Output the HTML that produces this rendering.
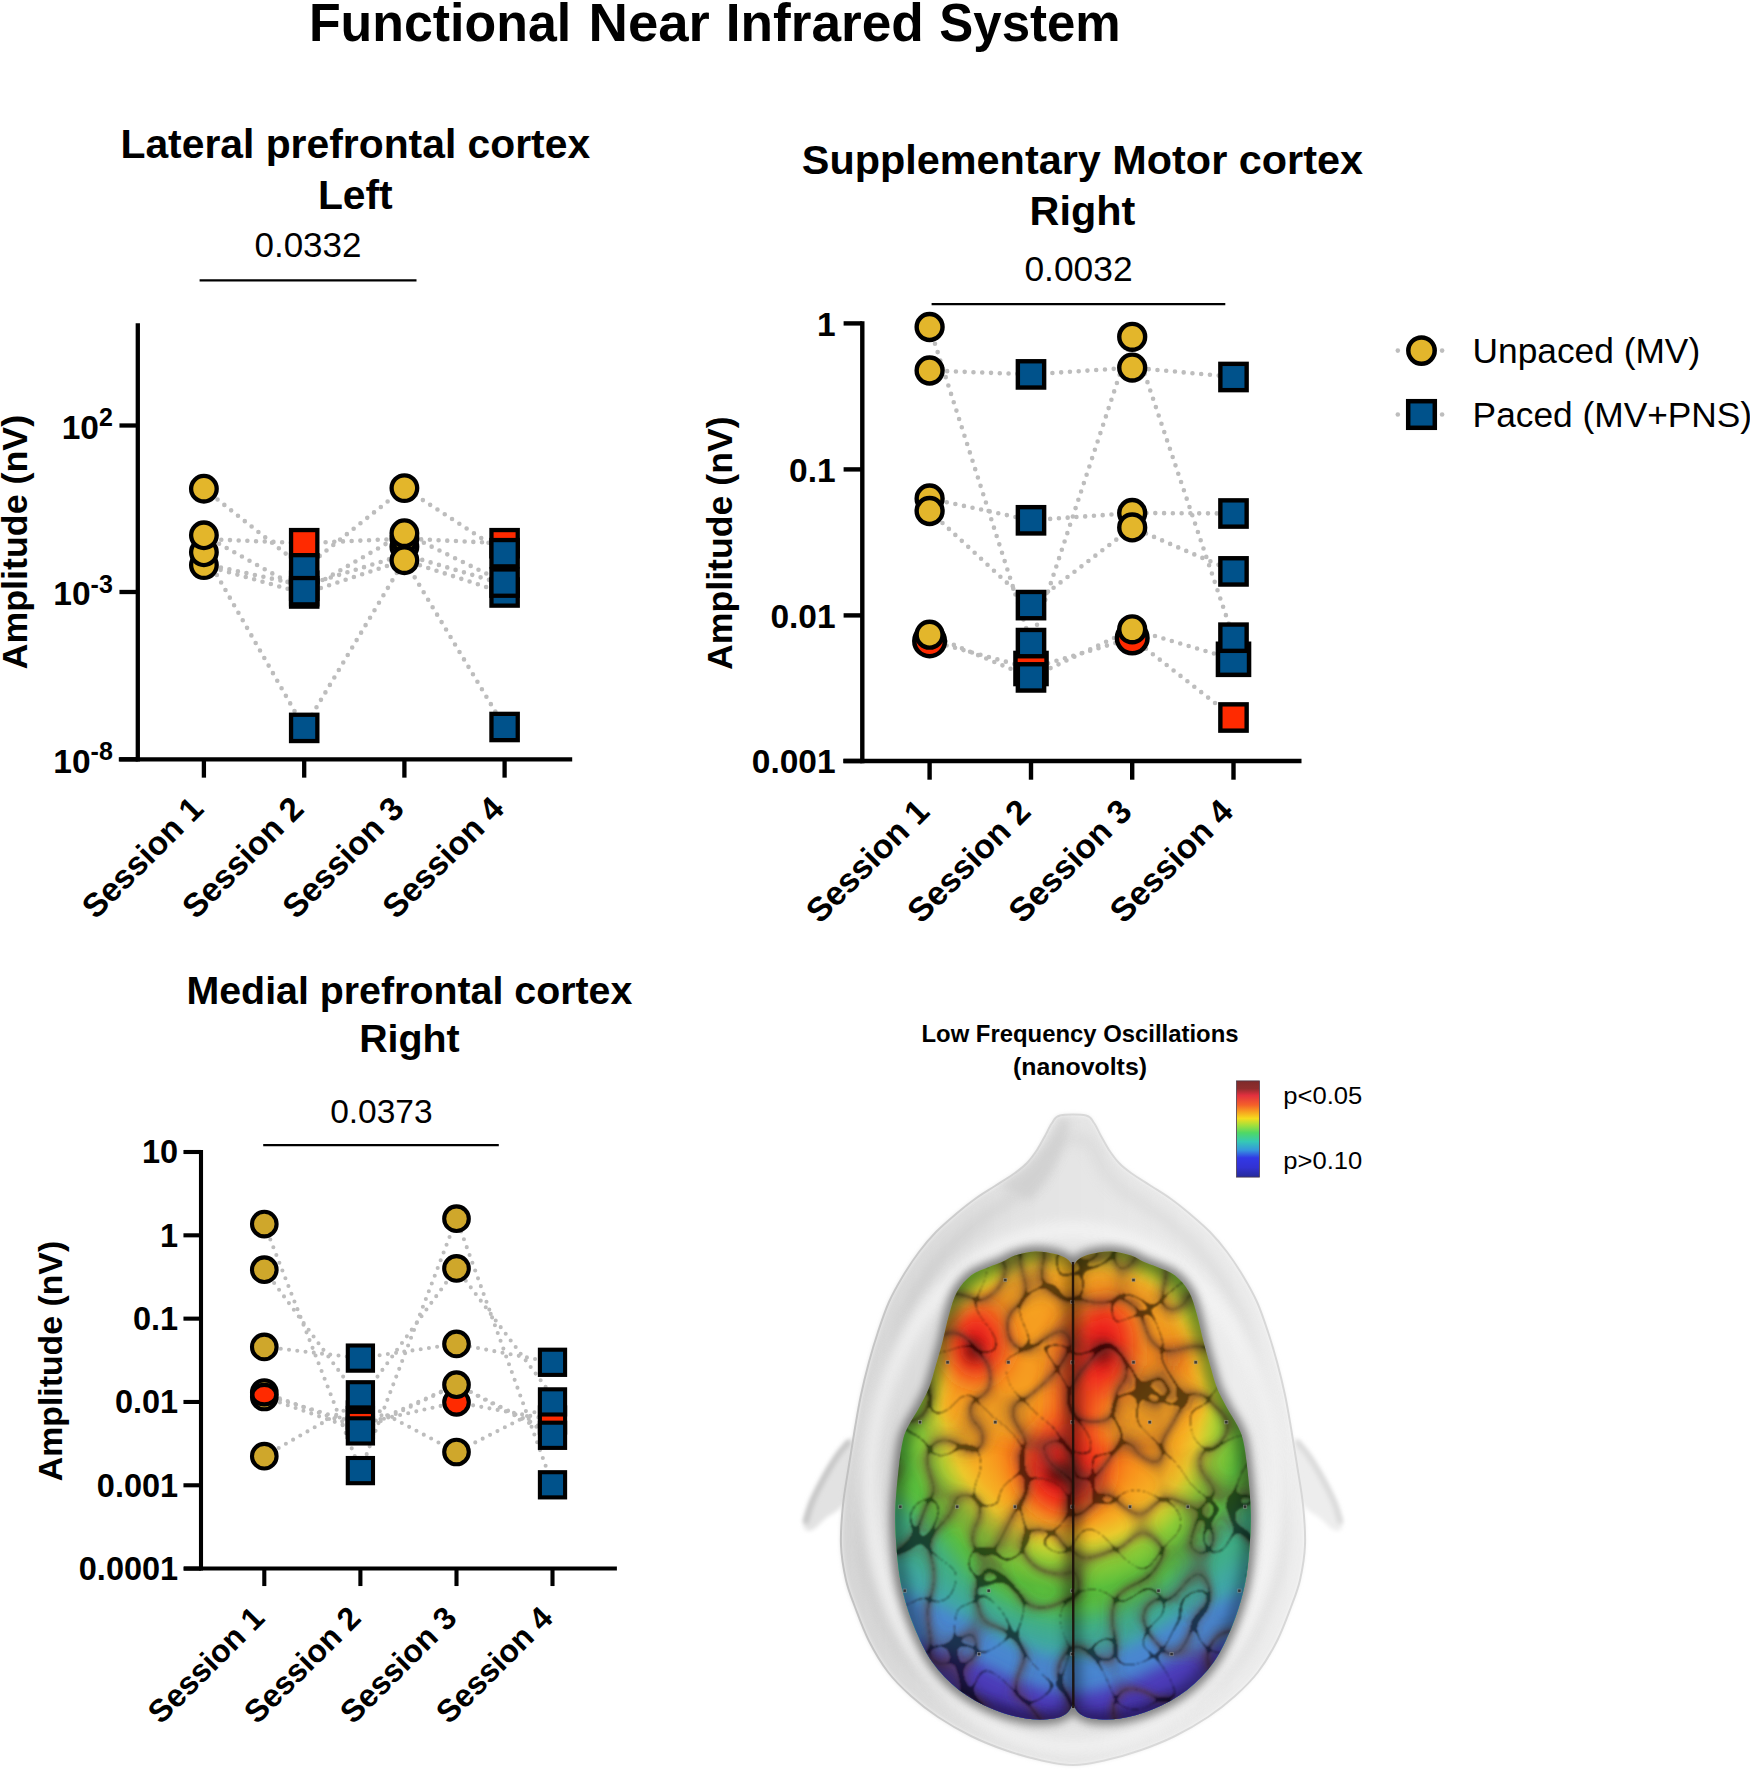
<!DOCTYPE html>
<html lang="en">
<head>
<meta charset="utf-8">
<title>Functional Near Infrared System</title>
<style>
html,body{margin:0;padding:0;background:#fff;}
body{width:1750px;height:1778px;overflow:hidden;}
svg{display:block;}
text{font-family:"Liberation Sans", sans-serif;fill:#000;}
</style>
</head>
<body>
<svg width="1750" height="1778" viewBox="0 0 1750 1778">
<rect width="1750" height="1778" fill="#fff"/>
<g id="main-title">
<text y="40.6" font-size="53.6" font-weight="bold" text-anchor="start"><tspan x="308.92" textLength="262.25" lengthAdjust="spacingAndGlyphs">Functional</tspan> <tspan x="588.52" textLength="121.35" lengthAdjust="spacingAndGlyphs">Near</tspan> <tspan x="725.72" textLength="198.15" lengthAdjust="spacingAndGlyphs">Infrared</tspan> <tspan x="939.32" textLength="181.35" lengthAdjust="spacingAndGlyphs">System</tspan></text>
</g>
<g id="chart1">
<text x="355.3" y="158" font-size="40.85" font-weight="bold" text-anchor="middle" >Lateral prefrontal cortex</text>
<text x="355.3" y="208.5" font-size="40.85" font-weight="bold" text-anchor="middle" >Left</text>
<text x="308" y="256.6" font-size="35" font-weight="normal" text-anchor="middle" >0.0332</text>
<line x1="199.6" y1="280.4" x2="416.5" y2="280.4" stroke="#000" stroke-width="2.3" stroke-linecap="butt"/>
<line x1="137.8" y1="323.25" x2="137.8" y2="761.45" stroke="#000" stroke-width="4.3" stroke-linecap="butt"/>
<line x1="118.8" y1="759.3" x2="572.2" y2="759.3" stroke="#000" stroke-width="4.3" stroke-linecap="butt"/>
<line x1="119.45" y1="425.5" x2="137.8" y2="425.5" stroke="#000" stroke-width="4.3" stroke-linecap="butt"/>
<line x1="119.45" y1="592" x2="137.8" y2="592" stroke="#000" stroke-width="4.3" stroke-linecap="butt"/>
<line x1="119.45" y1="759.3" x2="137.8" y2="759.3" stroke="#000" stroke-width="4.3" stroke-linecap="butt"/>
<line x1="203.9" y1="759.3" x2="203.9" y2="777.65" stroke="#000" stroke-width="4.3" stroke-linecap="butt"/>
<line x1="304.2" y1="759.3" x2="304.2" y2="777.65" stroke="#000" stroke-width="4.3" stroke-linecap="butt"/>
<line x1="404.4" y1="759.3" x2="404.4" y2="777.65" stroke="#000" stroke-width="4.3" stroke-linecap="butt"/>
<line x1="504.6" y1="759.3" x2="504.6" y2="777.65" stroke="#000" stroke-width="4.3" stroke-linecap="butt"/>
<text x="112.8" y="438.8" font-size="33.5" font-weight="bold" text-anchor="end">10<tspan font-size="25" dy="-12.4">2</tspan></text>
<text x="112.8" y="605.3" font-size="33.5" font-weight="bold" text-anchor="end">10<tspan font-size="25" dy="-12.4">-3</tspan></text>
<text x="112.8" y="772.6" font-size="33.5" font-weight="bold" text-anchor="end">10<tspan font-size="25" dy="-12.4">-8</tspan></text>
<text transform="translate(27,542.2) rotate(-90)" font-size="35.8" font-weight="bold" text-anchor="middle">Amplitude (nV)</text>
<text transform="translate(205.2,810.8) rotate(-45)" font-size="33.2" font-weight="bold" text-anchor="end">Session 1</text>
<text transform="translate(305.5,810.8) rotate(-45)" font-size="33.2" font-weight="bold" text-anchor="end">Session 2</text>
<text transform="translate(405.7,810.8) rotate(-45)" font-size="33.2" font-weight="bold" text-anchor="end">Session 3</text>
<text transform="translate(505.9,810.8) rotate(-45)" font-size="33.2" font-weight="bold" text-anchor="end">Session 4</text>
<polyline points="203.9,488.7 304.2,568.3 404.4,488.1 504.6,553.2" fill="none" stroke="#bdbdbd" stroke-width="4.6" stroke-linecap="round" stroke-linejoin="round" stroke-dasharray="0 8.7"/>
<polyline points="203.9,539 304.2,543.2 404.4,538.6 504.6,543.4" fill="none" stroke="#bdbdbd" stroke-width="4.6" stroke-linecap="round" stroke-linejoin="round" stroke-dasharray="0 8.7"/>
<polyline points="203.9,535.3 304.2,591.2 404.4,533.2 504.6,582.6" fill="none" stroke="#bdbdbd" stroke-width="4.6" stroke-linecap="round" stroke-linejoin="round" stroke-dasharray="0 8.7"/>
<polyline points="203.9,552.3 304.2,727.9 404.4,560.2 504.6,727" fill="none" stroke="#bdbdbd" stroke-width="4.6" stroke-linecap="round" stroke-linejoin="round" stroke-dasharray="0 8.7"/>
<polyline points="203.9,563.8 304.2,585.7 404.4,554.6 504.6,584.5" fill="none" stroke="#bdbdbd" stroke-width="4.6" stroke-linecap="round" stroke-linejoin="round" stroke-dasharray="0 8.7"/>
<polyline points="203.9,565.1 304.2,593.5 404.4,560.2 504.6,593" fill="none" stroke="#bdbdbd" stroke-width="4.6" stroke-linecap="round" stroke-linejoin="round" stroke-dasharray="0 8.7"/>
<circle cx="203.9" cy="565.1" r="12.8" fill="#E3B62B" stroke="#000" stroke-width="4.3"/>
<circle cx="203.9" cy="552.3" r="12.8" fill="#E3B62B" stroke="#000" stroke-width="4.3"/>
<circle cx="203.9" cy="535.3" r="12.8" fill="#E3B62B" stroke="#000" stroke-width="4.3"/>
<circle cx="203.9" cy="488.7" r="12.8" fill="#E3B62B" stroke="#000" stroke-width="4.3"/>
<rect x="291.05" y="714.75" width="26.3" height="26.3" fill="#00528B" stroke="#000" stroke-width="4.3"/>
<rect x="291.05" y="580.35" width="26.3" height="26.3" fill="#00528B" stroke="#000" stroke-width="4.3"/>
<rect x="291.05" y="572.55" width="26.3" height="26.3" fill="#00528B" stroke="#000" stroke-width="4.3"/>
<rect x="291.05" y="530.05" width="26.3" height="26.3" fill="#FF2A00" stroke="#000" stroke-width="4.3"/>
<rect x="291.05" y="555.15" width="26.3" height="26.3" fill="#00528B" stroke="#000" stroke-width="4.3"/>
<rect x="291.05" y="578.05" width="26.3" height="26.3" fill="#00528B" stroke="#000" stroke-width="4.3"/>
<circle cx="404.4" cy="546.7" r="12.8" fill="#E3B62B" stroke="#000" stroke-width="4.3"/>
<circle cx="404.4" cy="538.6" r="12.8" fill="#E3B62B" stroke="#000" stroke-width="4.3"/>
<circle cx="404.4" cy="560.2" r="12.8" fill="#E3B62B" stroke="#000" stroke-width="4.3"/>
<circle cx="404.4" cy="533.2" r="12.8" fill="#E3B62B" stroke="#000" stroke-width="4.3"/>
<circle cx="404.4" cy="488.1" r="12.8" fill="#E3B62B" stroke="#000" stroke-width="4.3"/>
<rect x="491.45" y="713.85" width="26.3" height="26.3" fill="#00528B" stroke="#000" stroke-width="4.3"/>
<rect x="491.45" y="579.35" width="26.3" height="26.3" fill="#00528B" stroke="#000" stroke-width="4.3"/>
<rect x="491.45" y="530.05" width="26.3" height="26.3" fill="#FF2A00" stroke="#000" stroke-width="4.3"/>
<rect x="491.45" y="540.05" width="26.3" height="26.3" fill="#00528B" stroke="#000" stroke-width="4.3"/>
<rect x="491.45" y="569.45" width="26.3" height="26.3" fill="#00528B" stroke="#000" stroke-width="4.3"/>
</g>
<g id="chart2">
<text x="1082.4" y="174.2" font-size="41.4" font-weight="bold" text-anchor="middle" >Supplementary Motor cortex</text>
<text x="1082.4" y="224.5" font-size="41.4" font-weight="bold" text-anchor="middle" >Right</text>
<text x="1078.5" y="281.2" font-size="35.4" font-weight="normal" text-anchor="middle" >0.0032</text>
<line x1="931.6" y1="304.2" x2="1225.3" y2="304.2" stroke="#000" stroke-width="2.3" stroke-linecap="butt"/>
<line x1="862.3" y1="321.2" x2="862.3" y2="763.2" stroke="#000" stroke-width="4.4" stroke-linecap="butt"/>
<line x1="843.3" y1="761" x2="1301.5" y2="761" stroke="#000" stroke-width="4.4" stroke-linecap="butt"/>
<line x1="843.6" y1="323.4" x2="862.3" y2="323.4" stroke="#000" stroke-width="4.4" stroke-linecap="butt"/>
<line x1="843.6" y1="469.4" x2="862.3" y2="469.4" stroke="#000" stroke-width="4.4" stroke-linecap="butt"/>
<line x1="843.6" y1="615.4" x2="862.3" y2="615.4" stroke="#000" stroke-width="4.4" stroke-linecap="butt"/>
<line x1="843.6" y1="761" x2="862.3" y2="761" stroke="#000" stroke-width="4.4" stroke-linecap="butt"/>
<line x1="929.6" y1="761" x2="929.6" y2="779.7" stroke="#000" stroke-width="4.4" stroke-linecap="butt"/>
<line x1="1031" y1="761" x2="1031" y2="779.7" stroke="#000" stroke-width="4.4" stroke-linecap="butt"/>
<line x1="1132.2" y1="761" x2="1132.2" y2="779.7" stroke="#000" stroke-width="4.4" stroke-linecap="butt"/>
<line x1="1233.5" y1="761" x2="1233.5" y2="779.7" stroke="#000" stroke-width="4.4" stroke-linecap="butt"/>
<text x="835.6" y="335.6" font-size="33.5" font-weight="bold" text-anchor="end" >1</text>
<text x="835.6" y="481.6" font-size="33.5" font-weight="bold" text-anchor="end" >0.1</text>
<text x="835.6" y="627.6" font-size="33.5" font-weight="bold" text-anchor="end" >0.01</text>
<text x="835.6" y="773.2" font-size="33.5" font-weight="bold" text-anchor="end" >0.001</text>
<text transform="translate(732,543.2) rotate(-90)" font-size="35.7" font-weight="bold" text-anchor="middle">Amplitude (nV)</text>
<text transform="translate(931.2,813.5) rotate(-45)" font-size="33.7" font-weight="bold" text-anchor="end">Session 1</text>
<text transform="translate(1032.6,813.5) rotate(-45)" font-size="33.7" font-weight="bold" text-anchor="end">Session 2</text>
<text transform="translate(1133.8,813.5) rotate(-45)" font-size="33.7" font-weight="bold" text-anchor="end">Session 3</text>
<text transform="translate(1235.1,813.5) rotate(-45)" font-size="33.7" font-weight="bold" text-anchor="end">Session 4</text>
<polyline points="929.6,327 1031,643.1 1132.2,336.8 1233.5,637.7" fill="none" stroke="#bdbdbd" stroke-width="4.6" stroke-linecap="round" stroke-linejoin="round" stroke-dasharray="0 8.78"/>
<polyline points="929.6,370.5 1031,374.4 1132.2,367.6 1233.5,377" fill="none" stroke="#bdbdbd" stroke-width="4.6" stroke-linecap="round" stroke-linejoin="round" stroke-dasharray="0 8.78"/>
<polyline points="929.6,498.5 1031,520.3 1132.2,513 1233.5,513.5" fill="none" stroke="#bdbdbd" stroke-width="4.6" stroke-linecap="round" stroke-linejoin="round" stroke-dasharray="0 8.78"/>
<polyline points="929.6,511 1031,605.1 1132.2,527.4 1233.5,571.4" fill="none" stroke="#bdbdbd" stroke-width="4.6" stroke-linecap="round" stroke-linejoin="round" stroke-dasharray="0 8.78"/>
<polyline points="929.6,634.7 1031,677.4 1132.2,629.3 1233.5,659.3" fill="none" stroke="#bdbdbd" stroke-width="4.6" stroke-linecap="round" stroke-linejoin="round" stroke-dasharray="0 8.78"/>
<polyline points="929.6,640.9 1031,668.5 1132.2,638 1233.5,717.5" fill="none" stroke="#bdbdbd" stroke-width="4.6" stroke-linecap="round" stroke-linejoin="round" stroke-dasharray="0 8.78"/>
<circle cx="929.6" cy="640.9" r="15.3" fill="#FF2A00" stroke="#000" stroke-width="4.5"/>
<circle cx="929.6" cy="634.7" r="12.95" fill="#E3B62B" stroke="#000" stroke-width="4.4"/>
<circle cx="929.6" cy="498.5" r="12.95" fill="#E3B62B" stroke="#000" stroke-width="4.4"/>
<circle cx="929.6" cy="511" r="12.95" fill="#E3B62B" stroke="#000" stroke-width="4.4"/>
<circle cx="929.6" cy="370.5" r="12.95" fill="#E3B62B" stroke="#000" stroke-width="4.4"/>
<circle cx="929.6" cy="327" r="12.95" fill="#E3B62B" stroke="#000" stroke-width="4.4"/>
<rect x="1015.45" y="652.95" width="31.1" height="31.1" fill="#FF2A00" stroke="#000" stroke-width="4.5"/>
<rect x="1017.85" y="664.25" width="26.3" height="26.3" fill="#00528B" stroke="#000" stroke-width="4.4"/>
<rect x="1017.85" y="629.95" width="26.3" height="26.3" fill="#00528B" stroke="#000" stroke-width="4.4"/>
<rect x="1017.85" y="591.95" width="26.3" height="26.3" fill="#00528B" stroke="#000" stroke-width="4.4"/>
<rect x="1017.85" y="507.15" width="26.3" height="26.3" fill="#00528B" stroke="#000" stroke-width="4.4"/>
<rect x="1017.85" y="361.25" width="26.3" height="26.3" fill="#00528B" stroke="#000" stroke-width="4.4"/>
<circle cx="1132.2" cy="638" r="15.3" fill="#FF2A00" stroke="#000" stroke-width="4.5"/>
<circle cx="1132.2" cy="629.3" r="12.95" fill="#E3B62B" stroke="#000" stroke-width="4.4"/>
<circle cx="1132.2" cy="513" r="12.95" fill="#E3B62B" stroke="#000" stroke-width="4.4"/>
<circle cx="1132.2" cy="527.4" r="12.95" fill="#E3B62B" stroke="#000" stroke-width="4.4"/>
<circle cx="1132.2" cy="336.8" r="12.95" fill="#E3B62B" stroke="#000" stroke-width="4.4"/>
<circle cx="1132.2" cy="367.6" r="12.95" fill="#E3B62B" stroke="#000" stroke-width="4.4"/>
<rect x="1217.95" y="643.75" width="31.1" height="31.1" fill="#00528B" stroke="#000" stroke-width="4.5"/>
<rect x="1220.35" y="624.55" width="26.3" height="26.3" fill="#00528B" stroke="#000" stroke-width="4.4"/>
<rect x="1220.35" y="558.25" width="26.3" height="26.3" fill="#00528B" stroke="#000" stroke-width="4.4"/>
<rect x="1220.35" y="500.35" width="26.3" height="26.3" fill="#00528B" stroke="#000" stroke-width="4.4"/>
<rect x="1220.35" y="363.85" width="26.3" height="26.3" fill="#00528B" stroke="#000" stroke-width="4.4"/>
<rect x="1220.35" y="704.35" width="26.3" height="26.3" fill="#FF2A00" stroke="#000" stroke-width="4.4"/>
</g>
<g id="legend">
<circle cx="1397.8" cy="350.6" r="2.3" fill="#bdbdbd"/><circle cx="1442.1" cy="350.6" r="2.3" fill="#bdbdbd"/>
<circle cx="1397.8" cy="414.5" r="2.3" fill="#bdbdbd"/><circle cx="1442.1" cy="414.5" r="2.3" fill="#bdbdbd"/>
<circle cx="1421.5" cy="350.6" r="13.2" fill="#E3B62B" stroke="#000" stroke-width="4.5"/>
<rect x="1408.2" y="401.2" width="26.6" height="26.6" fill="#00528B" stroke="#000" stroke-width="4.5"/>
<text x="1472.6" y="362.8" font-size="35.3" font-weight="normal" text-anchor="start" >Unpaced (MV)</text>
<text x="1472.6" y="426.8" font-size="35.3" font-weight="normal" text-anchor="start" >Paced (MV+PNS)</text>
</g>
<g id="chart3">
<text x="409.4" y="1004" font-size="39.35" font-weight="bold" text-anchor="middle" >Medial prefrontal cortex</text>
<text x="409.4" y="1052" font-size="39.35" font-weight="bold" text-anchor="middle" >Right</text>
<text x="381.4" y="1122.8" font-size="33.5" font-weight="normal" text-anchor="middle" >0.0373</text>
<line x1="263.2" y1="1145.2" x2="498.8" y2="1145.2" stroke="#000" stroke-width="2.2" stroke-linecap="butt"/>
<line x1="201" y1="1149.95" x2="201" y2="1570.55" stroke="#000" stroke-width="4.1" stroke-linecap="butt"/>
<line x1="184" y1="1568.5" x2="616.9" y2="1568.5" stroke="#000" stroke-width="4.1" stroke-linecap="butt"/>
<line x1="183.45" y1="1152" x2="201" y2="1152" stroke="#000" stroke-width="4.1" stroke-linecap="butt"/>
<line x1="183.45" y1="1235.32" x2="201" y2="1235.32" stroke="#000" stroke-width="4.1" stroke-linecap="butt"/>
<line x1="183.45" y1="1318.64" x2="201" y2="1318.64" stroke="#000" stroke-width="4.1" stroke-linecap="butt"/>
<line x1="183.45" y1="1401.96" x2="201" y2="1401.96" stroke="#000" stroke-width="4.1" stroke-linecap="butt"/>
<line x1="183.45" y1="1485.28" x2="201" y2="1485.28" stroke="#000" stroke-width="4.1" stroke-linecap="butt"/>
<line x1="183.45" y1="1568.6" x2="201" y2="1568.6" stroke="#000" stroke-width="4.1" stroke-linecap="butt"/>
<line x1="264.3" y1="1568.5" x2="264.3" y2="1586.05" stroke="#000" stroke-width="4.1" stroke-linecap="butt"/>
<line x1="360.4" y1="1568.5" x2="360.4" y2="1586.05" stroke="#000" stroke-width="4.1" stroke-linecap="butt"/>
<line x1="456.5" y1="1568.5" x2="456.5" y2="1586.05" stroke="#000" stroke-width="4.1" stroke-linecap="butt"/>
<line x1="552.5" y1="1568.5" x2="552.5" y2="1586.05" stroke="#000" stroke-width="4.1" stroke-linecap="butt"/>
<text x="178.2" y="1163.4" font-size="32.5" font-weight="bold" text-anchor="end" >10</text>
<text x="178.2" y="1246.72" font-size="32.5" font-weight="bold" text-anchor="end" >1</text>
<text x="178.2" y="1330.04" font-size="32.5" font-weight="bold" text-anchor="end" >0.1</text>
<text x="178.2" y="1413.36" font-size="32.5" font-weight="bold" text-anchor="end" >0.01</text>
<text x="178.2" y="1496.68" font-size="32.5" font-weight="bold" text-anchor="end" >0.001</text>
<text x="178.2" y="1580" font-size="32.5" font-weight="bold" text-anchor="end" >0.0001</text>
<text transform="translate(61.6,1361) rotate(-90)" font-size="33.8" font-weight="bold" text-anchor="middle">Amplitude (nV)</text>
<text transform="translate(266.4,1619.9) rotate(-45)" font-size="31.9" font-weight="bold" text-anchor="end">Session 1</text>
<text transform="translate(362.5,1619.9) rotate(-45)" font-size="31.9" font-weight="bold" text-anchor="end">Session 2</text>
<text transform="translate(458.6,1619.9) rotate(-45)" font-size="31.9" font-weight="bold" text-anchor="end">Session 3</text>
<text transform="translate(554.6,1619.9) rotate(-45)" font-size="31.9" font-weight="bold" text-anchor="end">Session 4</text>
<polyline points="264.3,1224.1 360.4,1470.6 456.5,1218.7 552.5,1484.8" fill="none" stroke="#bdbdbd" stroke-width="4.1" stroke-linecap="round" stroke-linejoin="round" stroke-dasharray="0 8.3"/>
<polyline points="264.3,1269.7 360.4,1400 456.5,1268.4 552.5,1396" fill="none" stroke="#bdbdbd" stroke-width="4.1" stroke-linecap="round" stroke-linejoin="round" stroke-dasharray="0 8.3"/>
<polyline points="264.3,1346.9 360.4,1358.1 456.5,1343.9 552.5,1362.3" fill="none" stroke="#bdbdbd" stroke-width="4.1" stroke-linecap="round" stroke-linejoin="round" stroke-dasharray="0 8.3"/>
<polyline points="264.3,1392.5 360.4,1428 456.5,1384.7 552.5,1433" fill="none" stroke="#bdbdbd" stroke-width="4.1" stroke-linecap="round" stroke-linejoin="round" stroke-dasharray="0 8.3"/>
<polyline points="264.3,1395 360.4,1424 456.5,1402.3 552.5,1420" fill="none" stroke="#bdbdbd" stroke-width="4.1" stroke-linecap="round" stroke-linejoin="round" stroke-dasharray="0 8.3"/>
<polyline points="264.3,1397 360.4,1430.9 456.5,1384.7 552.5,1435.3" fill="none" stroke="#bdbdbd" stroke-width="4.1" stroke-linecap="round" stroke-linejoin="round" stroke-dasharray="0 8.3"/>
<polyline points="264.3,1456.2 360.4,1401 456.5,1452 552.5,1403" fill="none" stroke="#bdbdbd" stroke-width="4.1" stroke-linecap="round" stroke-linejoin="round" stroke-dasharray="0 8.3"/>
<circle cx="264.3" cy="1456.2" r="12.3" fill="#CFA72B" stroke="#000" stroke-width="4.1"/>
<circle cx="264.3" cy="1346.9" r="12.3" fill="#CFA72B" stroke="#000" stroke-width="4.1"/>
<circle cx="264.3" cy="1269.7" r="12.3" fill="#CFA72B" stroke="#000" stroke-width="4.1"/>
<circle cx="264.3" cy="1224.1" r="12.3" fill="#CFA72B" stroke="#000" stroke-width="4.1"/>
<circle cx="264.3" cy="1392.5" r="12.3" fill="#CFA72B" stroke="#000" stroke-width="4.1"/>
<circle cx="264.3" cy="1397" r="12.3" fill="#CFA72B" stroke="#000" stroke-width="4.1"/>
<ellipse cx="264.3" cy="1394.7" rx="11.9" ry="9.7" fill="#FF2A00" stroke="#000" stroke-width="4.1"/>
<rect x="347.8" y="1458" width="25.2" height="25.2" fill="#00528B" stroke="#000" stroke-width="4.1"/>
<rect x="347.8" y="1345.5" width="25.2" height="25.2" fill="#00528B" stroke="#000" stroke-width="4.1"/>
<rect x="347.8" y="1402.4" width="25.2" height="25.2" fill="#00528B" stroke="#000" stroke-width="4.1"/>
<rect x="347.8" y="1407.9" width="25.2" height="25.2" fill="#00528B" stroke="#000" stroke-width="4.1"/>
<rect x="347.8" y="1411.9" width="25.2" height="25.2" fill="#FF2A00" stroke="#000" stroke-width="4.1"/>
<rect x="347.8" y="1418.3" width="25.2" height="25.2" fill="#00528B" stroke="#000" stroke-width="4.1"/>
<rect x="347.8" y="1382.2" width="25.2" height="25.2" fill="#00528B" stroke="#000" stroke-width="4.1"/>
<circle cx="456.5" cy="1402.3" r="12.3" fill="#FF2A00" stroke="#000" stroke-width="4.1"/>
<circle cx="456.5" cy="1452" r="12.3" fill="#CFA72B" stroke="#000" stroke-width="4.1"/>
<circle cx="456.5" cy="1343.9" r="12.3" fill="#CFA72B" stroke="#000" stroke-width="4.1"/>
<circle cx="456.5" cy="1268.4" r="12.3" fill="#CFA72B" stroke="#000" stroke-width="4.1"/>
<circle cx="456.5" cy="1218.7" r="12.3" fill="#CFA72B" stroke="#000" stroke-width="4.1"/>
<circle cx="456.5" cy="1384.7" r="12.3" fill="#CFA72B" stroke="#000" stroke-width="4.1"/>
<rect x="539.9" y="1472.2" width="25.2" height="25.2" fill="#00528B" stroke="#000" stroke-width="4.1"/>
<rect x="539.9" y="1349.7" width="25.2" height="25.2" fill="#00528B" stroke="#000" stroke-width="4.1"/>
<rect x="539.9" y="1407.4" width="25.2" height="25.2" fill="#FF2A00" stroke="#000" stroke-width="4.1"/>
<rect x="539.9" y="1422.7" width="25.2" height="25.2" fill="#00528B" stroke="#000" stroke-width="4.1"/>
<rect x="539.9" y="1389.3" width="25.2" height="25.2" fill="#00528B" stroke="#000" stroke-width="4.1"/>
</g>
<g id="brain-panel">
<defs>
<radialGradient id="heat" gradientUnits="userSpaceOnUse" cx="0" cy="0" r="330" gradientTransform="translate(1073.0,1400) scale(0.92,1)">
<stop offset="0" stop-color="#f2541e"/>
<stop offset="0.18" stop-color="#f7731d"/>
<stop offset="0.30" stop-color="#f8961d"/>
<stop offset="0.38" stop-color="#f6b024"/>
<stop offset="0.424" stop-color="#ecc82c"/>
<stop offset="0.455" stop-color="#c6d030"/>
<stop offset="0.5" stop-color="#8ecb36"/>
<stop offset="0.576" stop-color="#5abf3c"/>
<stop offset="1" stop-color="#52b944"/>
</radialGradient>
<linearGradient id="cbar" x1="0" y1="0" x2="0" y2="1">
<stop offset="0" stop-color="#7e2a2a"/>
<stop offset="0.08" stop-color="#8f2d2d"/>
<stop offset="0.15" stop-color="#e2303f"/>
<stop offset="0.25" stop-color="#f4602a"/>
<stop offset="0.32" stop-color="#f7a020"/>
<stop offset="0.39" stop-color="#f5dc1e"/>
<stop offset="0.46" stop-color="#a5e03a"/>
<stop offset="0.54" stop-color="#4fd866"/>
<stop offset="0.63" stop-color="#35c9b5"/>
<stop offset="0.72" stop-color="#3596dd"/>
<stop offset="0.80" stop-color="#3238e6"/>
<stop offset="0.90" stop-color="#3232d2"/>
<stop offset="1" stop-color="#262a9a"/>
</linearGradient>
<radialGradient id="headg" gradientUnits="userSpaceOnUse" cx="1073.0" cy="1470" r="330">
<stop offset="0" stop-color="#e9e9e9"/>
<stop offset="0.7" stop-color="#e4e4e4"/>
<stop offset="1" stop-color="#d6d6d6"/>
</radialGradient>
<linearGradient id="headlr" gradientUnits="userSpaceOnUse" x1="840" y1="0" x2="1306" y2="0">
<stop offset="0" stop-color="#d6d6d6"/><stop offset="0.35" stop-color="#e2e2e2"/><stop offset="0.7" stop-color="#e9e9e9"/><stop offset="1" stop-color="#eeeeee"/>
</linearGradient>
<linearGradient id="bandlr" gradientUnits="userSpaceOnUse" x1="840" y1="0" x2="1306" y2="0">
<stop offset="0" stop-color="#bdbdbd"/><stop offset="0.5" stop-color="#d6d6d6"/><stop offset="1" stop-color="#d4d4d4"/>
</linearGradient>
<clipPath id="bclip"><path d="M1072.8,1266C1071.83,1264.83 1069.97,1261 1067,1259C1064.03,1257 1060.33,1255.25 1055,1254C1049.67,1252.75 1041.67,1251.25 1035,1251.5C1028.33,1251.75 1020.5,1253.75 1015,1255.5C1009.5,1257.25 1006.33,1260.08 1002,1262C997.67,1263.92 994.17,1264.75 989,1267C983.83,1269.25 976.33,1271.33 971,1275.5C965.67,1279.67 960.67,1285.42 957,1292C953.33,1298.58 951.42,1306.67 949,1315C946.58,1323.33 944.67,1333.67 942.5,1342C940.33,1350.33 938.25,1357.33 936,1365C933.75,1372.67 931.83,1380.83 929,1388C926.17,1395.17 922.33,1401.83 919,1408C915.67,1414.17 911.67,1419.67 909,1425C906.33,1430.33 904.73,1432.58 903,1440C901.27,1447.42 899.9,1457.17 898.6,1469.5C897.3,1481.83 895.38,1499.08 895.2,1514C895.02,1528.92 896.2,1545.9 897.5,1559C898.8,1572.1 900.2,1581.27 903,1592.6C905.8,1603.93 909.43,1615.43 914.3,1627C919.17,1638.57 924.75,1651.5 932.2,1662C939.65,1672.5 948.93,1682.17 959,1690C969.07,1697.83 981.43,1704.25 992.6,1709C1003.77,1713.75 1015.77,1716.92 1026,1718.5C1036.23,1720.08 1047.17,1719.42 1054,1718.5C1060.83,1717.58 1063.87,1715.42 1067,1713C1070.13,1710.58 1071.83,1705.5 1072.8,1704Z"/><path d="M1073.2,1266C1074.17,1264.83 1076.03,1261 1079,1259C1081.97,1257 1085.67,1255.25 1091,1254C1096.33,1252.75 1104.33,1251.25 1111,1251.5C1117.67,1251.75 1125.5,1253.75 1131,1255.5C1136.5,1257.25 1139.67,1260.08 1144,1262C1148.33,1263.92 1151.83,1264.75 1157,1267C1162.17,1269.25 1169.67,1271.33 1175,1275.5C1180.33,1279.67 1185.33,1285.42 1189,1292C1192.67,1298.58 1194.58,1306.67 1197,1315C1199.42,1323.33 1201.33,1333.67 1203.5,1342C1205.67,1350.33 1207.75,1357.33 1210,1365C1212.25,1372.67 1214.17,1380.83 1217,1388C1219.83,1395.17 1223.67,1401.83 1227,1408C1230.33,1414.17 1234.33,1419.67 1237,1425C1239.67,1430.33 1241.27,1432.58 1243,1440C1244.73,1447.42 1246.1,1457.17 1247.4,1469.5C1248.7,1481.83 1250.62,1499.08 1250.8,1514C1250.98,1528.92 1249.8,1545.9 1248.5,1559C1247.2,1572.1 1245.8,1581.27 1243,1592.6C1240.2,1603.93 1236.57,1615.43 1231.7,1627C1226.83,1638.57 1221.25,1651.5 1213.8,1662C1206.35,1672.5 1197.07,1682.17 1187,1690C1176.93,1697.83 1164.57,1704.25 1153.4,1709C1142.23,1713.75 1130.23,1716.92 1120,1718.5C1109.77,1720.08 1098.83,1719.42 1092,1718.5C1085.17,1717.58 1082.13,1715.42 1079,1713C1075.87,1710.58 1074.17,1705.5 1073.2,1704Z"/></clipPath>
<clipPath id="hclip"><path d="M1060,1115.5C1054.33,1116.75 1054.5,1119.58 1052,1123C1049.5,1126.42 1047.5,1131.5 1045,1136C1042.5,1140.5 1040,1145.5 1037,1150C1034,1154.5 1030.67,1159.17 1027,1163C1023.33,1166.83 1020.33,1169.17 1015,1173C1009.67,1176.83 1001.67,1181.67 995,1186C988.33,1190.33 981.5,1194.33 975,1199C968.5,1203.67 962.5,1208.5 956,1214C949.5,1219.5 942.17,1225.67 936,1232C929.83,1238.33 924.5,1244.67 919,1252C913.5,1259.33 908,1267.67 903,1276C898,1284.33 893.17,1292.67 889,1302C884.83,1311.33 881.33,1322 878,1332C874.67,1342 871.83,1351.5 869,1362C866.17,1372.5 863.33,1384 861,1395C858.67,1406 857,1416.33 855,1428C853,1439.67 851,1452.17 849,1465C847,1477.83 844.33,1491.67 843,1505C841.67,1518.33 840.5,1532.5 841,1545C841.5,1557.5 843.67,1569.67 846,1580C848.33,1590.33 851.17,1596.83 855,1607C858.83,1617.17 863.5,1630.17 869,1641C874.5,1651.83 881,1662.83 888,1672C895,1681.17 902.67,1688.5 911,1696C919.33,1703.5 928,1710.33 938,1717C948,1723.67 959.83,1730.5 971,1736C982.17,1741.5 993.5,1746 1005,1750C1016.5,1754 1028.67,1757.5 1040,1760C1051.33,1762.5 1062,1765 1073,1765C1084,1765 1094.67,1762.5 1106,1760C1117.33,1757.5 1129.5,1754 1141,1750C1152.5,1746 1163.83,1741.5 1175,1736C1186.17,1730.5 1198,1723.67 1208,1717C1218,1710.33 1226.67,1703.5 1235,1696C1243.33,1688.5 1251,1681.17 1258,1672C1265,1662.83 1271.5,1651.83 1277,1641C1282.5,1630.17 1287.17,1617.17 1291,1607C1294.83,1596.83 1297.67,1590.33 1300,1580C1302.33,1569.67 1304.5,1557.5 1305,1545C1305.5,1532.5 1304.33,1518.33 1303,1505C1301.67,1491.67 1299,1477.83 1297,1465C1295,1452.17 1293,1439.67 1291,1428C1289,1416.33 1287.33,1406 1285,1395C1282.67,1384 1279.83,1372.5 1277,1362C1274.17,1351.5 1271.33,1342 1268,1332C1264.67,1322 1261.17,1311.33 1257,1302C1252.83,1292.67 1248,1284.33 1243,1276C1238,1267.67 1232.5,1259.33 1227,1252C1221.5,1244.67 1216.17,1238.33 1210,1232C1203.83,1225.67 1196.5,1219.5 1190,1214C1183.5,1208.5 1177.5,1203.67 1171,1199C1164.5,1194.33 1157.67,1190.33 1151,1186C1144.33,1181.67 1136.33,1176.83 1131,1173C1125.67,1169.17 1122.67,1166.83 1119,1163C1115.33,1159.17 1112,1154.5 1109,1150C1106,1145.5 1103.5,1140.5 1101,1136C1098.5,1131.5 1096.5,1126.42 1094,1123C1091.5,1119.58 1091.67,1116.75 1086,1115.5C1080.33,1114.25 1065.67,1114.25 1060,1115.5Z"/></clipPath>
<filter id="b2" x="-20%" y="-20%" width="140%" height="140%"><feGaussianBlur stdDeviation="2"/></filter>
<filter id="b4" x="-20%" y="-20%" width="140%" height="140%"><feGaussianBlur stdDeviation="4"/></filter>
<filter id="b7" x="-30%" y="-30%" width="160%" height="160%"><feGaussianBlur stdDeviation="7"/></filter>
<filter id="b10" x="-30%" y="-30%" width="160%" height="160%"><feGaussianBlur stdDeviation="10"/></filter>
<filter id="b14" x="-60%" y="-60%" width="220%" height="220%"><feGaussianBlur stdDeviation="14"/></filter>
<filter id="sulci" x="0" y="0" width="100%" height="100%" filterUnits="objectBoundingBox">
<feTurbulence type="turbulence" baseFrequency="0.0215 0.020" numOctaves="1" seed="3" result="t"/>
<feColorMatrix in="t" type="matrix" values="0 0 0 0 0.10  0 0 0 0 0.04  0 0 0 0 0.03  1 0 0 0 0"/>
<feComponentTransfer><feFuncA type="table" tableValues="0.76 0.30 0.08 0.01 0 0 0 0 0 0 0"/></feComponentTransfer>
<feGaussianBlur stdDeviation="0.8"/>
</filter>
</defs>
<text x="1080" y="1042" font-size="23.6" font-weight="bold" text-anchor="middle" textLength="317" lengthAdjust="spacingAndGlyphs" fill="#1a1a1a">Low Frequency Oscillations</text>
<text x="1080" y="1075.1" font-size="23.6" font-weight="bold" text-anchor="middle" textLength="134" lengthAdjust="spacingAndGlyphs" fill="#1a1a1a">(nanovolts)</text>
<rect x="1236.6" y="1080.9" width="22.8" height="96.2" fill="url(#cbar)" stroke="#4a3a4a" stroke-width="0.8"/>
<text x="1283.3" y="1104.3" font-size="23.2" font-weight="normal" text-anchor="start" textLength="79" lengthAdjust="spacingAndGlyphs" fill="#111">p&lt;0.05</text>
<text x="1283.3" y="1169.1" font-size="23.2" font-weight="normal" text-anchor="start" textLength="79" lengthAdjust="spacingAndGlyphs" fill="#111">p&gt;0.10</text>
<g filter="url(#b2)"><path d="M852,1440C850.67,1433.17 846.33,1443.67 842,1449C837.67,1454.33 831,1463.5 826,1472C821,1480.5 815.67,1491.83 812,1500C808.33,1508.17 805,1516 804,1521C803,1526 804.33,1528.67 806,1530C807.67,1531.33 810.67,1531 814,1529C817.33,1527 821.67,1521.5 826,1518C830.33,1514.5 836,1512.67 840,1508C844,1503.33 848,1501.33 850,1490C852,1478.67 853.33,1446.83 852,1440Z" fill="#e2e2e2"/><path d="M1294,1440C1295.33,1433.17 1299.67,1443.67 1304,1449C1308.33,1454.33 1315,1463.5 1320,1472C1325,1480.5 1330.33,1491.83 1334,1500C1337.67,1508.17 1341,1516 1342,1521C1343,1526 1341.67,1528.67 1340,1530C1338.33,1531.33 1335.33,1531 1332,1529C1328.67,1527 1324.33,1521.5 1320,1518C1315.67,1514.5 1310,1512.67 1306,1508C1302,1503.33 1298,1501.33 1296,1490C1294,1478.67 1292.67,1446.83 1294,1440Z" fill="#ededed"/></g>
<g filter="url(#b2)" fill="none" stroke-linecap="round"><path d="M848,1443C846.33,1445 842,1449.17 838,1455C834,1460.83 828.33,1470.17 824,1478C819.67,1485.83 815,1494.83 812,1502C809,1509.17 807,1517.83 806,1521" stroke="#c6c6c6" stroke-width="6"/><path d="M1298,1443C1299.67,1445 1304,1449.17 1308,1455C1312,1460.83 1317.67,1470.17 1322,1478C1326.33,1485.83 1331,1494.83 1334,1502C1337,1509.17 1339,1517.83 1340,1521" stroke="#dadada" stroke-width="6"/></g>
<path d="M1060,1115.5C1054.33,1116.75 1054.5,1119.58 1052,1123C1049.5,1126.42 1047.5,1131.5 1045,1136C1042.5,1140.5 1040,1145.5 1037,1150C1034,1154.5 1030.67,1159.17 1027,1163C1023.33,1166.83 1020.33,1169.17 1015,1173C1009.67,1176.83 1001.67,1181.67 995,1186C988.33,1190.33 981.5,1194.33 975,1199C968.5,1203.67 962.5,1208.5 956,1214C949.5,1219.5 942.17,1225.67 936,1232C929.83,1238.33 924.5,1244.67 919,1252C913.5,1259.33 908,1267.67 903,1276C898,1284.33 893.17,1292.67 889,1302C884.83,1311.33 881.33,1322 878,1332C874.67,1342 871.83,1351.5 869,1362C866.17,1372.5 863.33,1384 861,1395C858.67,1406 857,1416.33 855,1428C853,1439.67 851,1452.17 849,1465C847,1477.83 844.33,1491.67 843,1505C841.67,1518.33 840.5,1532.5 841,1545C841.5,1557.5 843.67,1569.67 846,1580C848.33,1590.33 851.17,1596.83 855,1607C858.83,1617.17 863.5,1630.17 869,1641C874.5,1651.83 881,1662.83 888,1672C895,1681.17 902.67,1688.5 911,1696C919.33,1703.5 928,1710.33 938,1717C948,1723.67 959.83,1730.5 971,1736C982.17,1741.5 993.5,1746 1005,1750C1016.5,1754 1028.67,1757.5 1040,1760C1051.33,1762.5 1062,1765 1073,1765C1084,1765 1094.67,1762.5 1106,1760C1117.33,1757.5 1129.5,1754 1141,1750C1152.5,1746 1163.83,1741.5 1175,1736C1186.17,1730.5 1198,1723.67 1208,1717C1218,1710.33 1226.67,1703.5 1235,1696C1243.33,1688.5 1251,1681.17 1258,1672C1265,1662.83 1271.5,1651.83 1277,1641C1282.5,1630.17 1287.17,1617.17 1291,1607C1294.83,1596.83 1297.67,1590.33 1300,1580C1302.33,1569.67 1304.5,1557.5 1305,1545C1305.5,1532.5 1304.33,1518.33 1303,1505C1301.67,1491.67 1299,1477.83 1297,1465C1295,1452.17 1293,1439.67 1291,1428C1289,1416.33 1287.33,1406 1285,1395C1282.67,1384 1279.83,1372.5 1277,1362C1274.17,1351.5 1271.33,1342 1268,1332C1264.67,1322 1261.17,1311.33 1257,1302C1252.83,1292.67 1248,1284.33 1243,1276C1238,1267.67 1232.5,1259.33 1227,1252C1221.5,1244.67 1216.17,1238.33 1210,1232C1203.83,1225.67 1196.5,1219.5 1190,1214C1183.5,1208.5 1177.5,1203.67 1171,1199C1164.5,1194.33 1157.67,1190.33 1151,1186C1144.33,1181.67 1136.33,1176.83 1131,1173C1125.67,1169.17 1122.67,1166.83 1119,1163C1115.33,1159.17 1112,1154.5 1109,1150C1106,1145.5 1103.5,1140.5 1101,1136C1098.5,1131.5 1096.5,1126.42 1094,1123C1091.5,1119.58 1091.67,1116.75 1086,1115.5C1080.33,1114.25 1065.67,1114.25 1060,1115.5Z" fill="url(#headlr)" filter="url(#b2)"/>
<path d="M1060,1115.5C1054.33,1116.75 1054.5,1119.58 1052,1123C1049.5,1126.42 1047.5,1131.5 1045,1136C1042.5,1140.5 1040,1145.5 1037,1150C1034,1154.5 1030.67,1159.17 1027,1163C1023.33,1166.83 1020.33,1169.17 1015,1173C1009.67,1176.83 1001.67,1181.67 995,1186C988.33,1190.33 981.5,1194.33 975,1199C968.5,1203.67 962.5,1208.5 956,1214C949.5,1219.5 942.17,1225.67 936,1232C929.83,1238.33 924.5,1244.67 919,1252C913.5,1259.33 908,1267.67 903,1276C898,1284.33 893.17,1292.67 889,1302C884.83,1311.33 881.33,1322 878,1332C874.67,1342 871.83,1351.5 869,1362C866.17,1372.5 863.33,1384 861,1395C858.67,1406 857,1416.33 855,1428C853,1439.67 851,1452.17 849,1465C847,1477.83 844.33,1491.67 843,1505C841.67,1518.33 840.5,1532.5 841,1545C841.5,1557.5 843.67,1569.67 846,1580C848.33,1590.33 851.17,1596.83 855,1607C858.83,1617.17 863.5,1630.17 869,1641C874.5,1651.83 881,1662.83 888,1672C895,1681.17 902.67,1688.5 911,1696C919.33,1703.5 928,1710.33 938,1717C948,1723.67 959.83,1730.5 971,1736C982.17,1741.5 993.5,1746 1005,1750C1016.5,1754 1028.67,1757.5 1040,1760C1051.33,1762.5 1062,1765 1073,1765C1084,1765 1094.67,1762.5 1106,1760C1117.33,1757.5 1129.5,1754 1141,1750C1152.5,1746 1163.83,1741.5 1175,1736C1186.17,1730.5 1198,1723.67 1208,1717C1218,1710.33 1226.67,1703.5 1235,1696C1243.33,1688.5 1251,1681.17 1258,1672C1265,1662.83 1271.5,1651.83 1277,1641C1282.5,1630.17 1287.17,1617.17 1291,1607C1294.83,1596.83 1297.67,1590.33 1300,1580C1302.33,1569.67 1304.5,1557.5 1305,1545C1305.5,1532.5 1304.33,1518.33 1303,1505C1301.67,1491.67 1299,1477.83 1297,1465C1295,1452.17 1293,1439.67 1291,1428C1289,1416.33 1287.33,1406 1285,1395C1282.67,1384 1279.83,1372.5 1277,1362C1274.17,1351.5 1271.33,1342 1268,1332C1264.67,1322 1261.17,1311.33 1257,1302C1252.83,1292.67 1248,1284.33 1243,1276C1238,1267.67 1232.5,1259.33 1227,1252C1221.5,1244.67 1216.17,1238.33 1210,1232C1203.83,1225.67 1196.5,1219.5 1190,1214C1183.5,1208.5 1177.5,1203.67 1171,1199C1164.5,1194.33 1157.67,1190.33 1151,1186C1144.33,1181.67 1136.33,1176.83 1131,1173C1125.67,1169.17 1122.67,1166.83 1119,1163C1115.33,1159.17 1112,1154.5 1109,1150C1106,1145.5 1103.5,1140.5 1101,1136C1098.5,1131.5 1096.5,1126.42 1094,1123C1091.5,1119.58 1091.67,1116.75 1086,1115.5C1080.33,1114.25 1065.67,1114.25 1060,1115.5Z" fill="none" stroke="url(#bandlr)" stroke-width="2" opacity="0.9"/>
<g clip-path="url(#hclip)">
<path d="M1060,1115.5C1054.33,1116.75 1054.5,1119.58 1052,1123C1049.5,1126.42 1047.5,1131.5 1045,1136C1042.5,1140.5 1040,1145.5 1037,1150C1034,1154.5 1030.67,1159.17 1027,1163C1023.33,1166.83 1020.33,1169.17 1015,1173C1009.67,1176.83 1001.67,1181.67 995,1186C988.33,1190.33 981.5,1194.33 975,1199C968.5,1203.67 962.5,1208.5 956,1214C949.5,1219.5 942.17,1225.67 936,1232C929.83,1238.33 924.5,1244.67 919,1252C913.5,1259.33 908,1267.67 903,1276C898,1284.33 893.17,1292.67 889,1302C884.83,1311.33 881.33,1322 878,1332C874.67,1342 871.83,1351.5 869,1362C866.17,1372.5 863.33,1384 861,1395C858.67,1406 857,1416.33 855,1428C853,1439.67 851,1452.17 849,1465C847,1477.83 844.33,1491.67 843,1505C841.67,1518.33 840.5,1532.5 841,1545C841.5,1557.5 843.67,1569.67 846,1580C848.33,1590.33 851.17,1596.83 855,1607C858.83,1617.17 863.5,1630.17 869,1641C874.5,1651.83 881,1662.83 888,1672C895,1681.17 902.67,1688.5 911,1696C919.33,1703.5 928,1710.33 938,1717C948,1723.67 959.83,1730.5 971,1736C982.17,1741.5 993.5,1746 1005,1750C1016.5,1754 1028.67,1757.5 1040,1760C1051.33,1762.5 1062,1765 1073,1765C1084,1765 1094.67,1762.5 1106,1760C1117.33,1757.5 1129.5,1754 1141,1750C1152.5,1746 1163.83,1741.5 1175,1736C1186.17,1730.5 1198,1723.67 1208,1717C1218,1710.33 1226.67,1703.5 1235,1696C1243.33,1688.5 1251,1681.17 1258,1672C1265,1662.83 1271.5,1651.83 1277,1641C1282.5,1630.17 1287.17,1617.17 1291,1607C1294.83,1596.83 1297.67,1590.33 1300,1580C1302.33,1569.67 1304.5,1557.5 1305,1545C1305.5,1532.5 1304.33,1518.33 1303,1505C1301.67,1491.67 1299,1477.83 1297,1465C1295,1452.17 1293,1439.67 1291,1428C1289,1416.33 1287.33,1406 1285,1395C1282.67,1384 1279.83,1372.5 1277,1362C1274.17,1351.5 1271.33,1342 1268,1332C1264.67,1322 1261.17,1311.33 1257,1302C1252.83,1292.67 1248,1284.33 1243,1276C1238,1267.67 1232.5,1259.33 1227,1252C1221.5,1244.67 1216.17,1238.33 1210,1232C1203.83,1225.67 1196.5,1219.5 1190,1214C1183.5,1208.5 1177.5,1203.67 1171,1199C1164.5,1194.33 1157.67,1190.33 1151,1186C1144.33,1181.67 1136.33,1176.83 1131,1173C1125.67,1169.17 1122.67,1166.83 1119,1163C1115.33,1159.17 1112,1154.5 1109,1150C1106,1145.5 1103.5,1140.5 1101,1136C1098.5,1131.5 1096.5,1126.42 1094,1123C1091.5,1119.58 1091.67,1116.75 1086,1115.5C1080.33,1114.25 1065.67,1114.25 1060,1115.5Z" fill="none" stroke="url(#bandlr)" stroke-width="10" filter="url(#b7)" opacity="0.8" transform="translate(1073.0,1450) scale(0.9,0.93) translate(-1073.0,-1450)"/>
<path d="M1060,1118 C1052,1140 1035,1165 1000,1186 L1030,1200 C1050,1180 1066,1150 1070,1120Z" fill="#cfcfcf" filter="url(#b4)" opacity="0.8"/>
<ellipse cx="1073.0" cy="1488" rx="203" ry="258" fill="none" stroke="#f4f4f4" stroke-width="16" filter="url(#b7)" opacity="0.9"/>
</g>
<g filter="url(#b4)" opacity="0.7"><path d="M1072.8,1266C1071.83,1264.83 1069.97,1261 1067,1259C1064.03,1257 1060.33,1255.25 1055,1254C1049.67,1252.75 1041.67,1251.25 1035,1251.5C1028.33,1251.75 1020.5,1253.75 1015,1255.5C1009.5,1257.25 1006.33,1260.08 1002,1262C997.67,1263.92 994.17,1264.75 989,1267C983.83,1269.25 976.33,1271.33 971,1275.5C965.67,1279.67 960.67,1285.42 957,1292C953.33,1298.58 951.42,1306.67 949,1315C946.58,1323.33 944.67,1333.67 942.5,1342C940.33,1350.33 938.25,1357.33 936,1365C933.75,1372.67 931.83,1380.83 929,1388C926.17,1395.17 922.33,1401.83 919,1408C915.67,1414.17 911.67,1419.67 909,1425C906.33,1430.33 904.73,1432.58 903,1440C901.27,1447.42 899.9,1457.17 898.6,1469.5C897.3,1481.83 895.38,1499.08 895.2,1514C895.02,1528.92 896.2,1545.9 897.5,1559C898.8,1572.1 900.2,1581.27 903,1592.6C905.8,1603.93 909.43,1615.43 914.3,1627C919.17,1638.57 924.75,1651.5 932.2,1662C939.65,1672.5 948.93,1682.17 959,1690C969.07,1697.83 981.43,1704.25 992.6,1709C1003.77,1713.75 1015.77,1716.92 1026,1718.5C1036.23,1720.08 1047.17,1719.42 1054,1718.5C1060.83,1717.58 1063.87,1715.42 1067,1713C1070.13,1710.58 1071.83,1705.5 1072.8,1704Z" fill="#5a5a5a" stroke="#5a5a5a" stroke-width="11"/><path d="M1073.2,1266C1074.17,1264.83 1076.03,1261 1079,1259C1081.97,1257 1085.67,1255.25 1091,1254C1096.33,1252.75 1104.33,1251.25 1111,1251.5C1117.67,1251.75 1125.5,1253.75 1131,1255.5C1136.5,1257.25 1139.67,1260.08 1144,1262C1148.33,1263.92 1151.83,1264.75 1157,1267C1162.17,1269.25 1169.67,1271.33 1175,1275.5C1180.33,1279.67 1185.33,1285.42 1189,1292C1192.67,1298.58 1194.58,1306.67 1197,1315C1199.42,1323.33 1201.33,1333.67 1203.5,1342C1205.67,1350.33 1207.75,1357.33 1210,1365C1212.25,1372.67 1214.17,1380.83 1217,1388C1219.83,1395.17 1223.67,1401.83 1227,1408C1230.33,1414.17 1234.33,1419.67 1237,1425C1239.67,1430.33 1241.27,1432.58 1243,1440C1244.73,1447.42 1246.1,1457.17 1247.4,1469.5C1248.7,1481.83 1250.62,1499.08 1250.8,1514C1250.98,1528.92 1249.8,1545.9 1248.5,1559C1247.2,1572.1 1245.8,1581.27 1243,1592.6C1240.2,1603.93 1236.57,1615.43 1231.7,1627C1226.83,1638.57 1221.25,1651.5 1213.8,1662C1206.35,1672.5 1197.07,1682.17 1187,1690C1176.93,1697.83 1164.57,1704.25 1153.4,1709C1142.23,1713.75 1130.23,1716.92 1120,1718.5C1109.77,1720.08 1098.83,1719.42 1092,1718.5C1085.17,1717.58 1082.13,1715.42 1079,1713C1075.87,1710.58 1074.17,1705.5 1073.2,1704Z" fill="#5a5a5a" stroke="#5a5a5a" stroke-width="11"/></g>
<g clip-path="url(#bclip)">
<rect x="880" y="1240" width="390" height="490" fill="url(#heat)"/>
<path d="M870,1490C875.83,1492.67 893.33,1498 905,1506C916.67,1514 928.17,1525.67 940,1538C951.83,1550.33 962.67,1568.67 976,1580C989.33,1591.33 1003.83,1600 1020,1606C1036.17,1612 1055.33,1616 1073,1616C1090.67,1616 1109.83,1612 1126,1606C1142.17,1600 1156.67,1591.33 1170,1580C1183.33,1568.67 1194.17,1550.33 1206,1538C1217.83,1525.67 1229.33,1514 1241,1506C1252.67,1498 1270.17,1492.67 1276,1490L1276.0,1740 L870,1740Z" fill="#3fae86" filter="url(#b10)"/>
<path d="M870,1545C875.83,1547.5 893.33,1553.83 905,1560C916.67,1566.17 928.17,1574.33 940,1582C951.83,1589.67 962.67,1598 976,1606C989.33,1614 1003.83,1624.33 1020,1630C1036.17,1635.67 1055.33,1640 1073,1640C1090.67,1640 1109.83,1635.67 1126,1630C1142.17,1624.33 1156.67,1614 1170,1606C1183.33,1598 1194.17,1589.67 1206,1582C1217.83,1574.33 1229.33,1566.17 1241,1560C1252.67,1553.83 1270.17,1547.5 1276,1545L1276.0,1740 L870,1740Z" fill="#3fa6a8" filter="url(#b10)"/>
<path d="M870,1578C875.83,1580.33 893.33,1587.33 905,1592C916.67,1596.67 928.17,1600.67 940,1606C951.83,1611.33 962.67,1617.17 976,1624C989.33,1630.83 1003.83,1641.33 1020,1647C1036.17,1652.67 1055.33,1658 1073,1658C1090.67,1658 1109.83,1652.67 1126,1647C1142.17,1641.33 1156.67,1630.83 1170,1624C1183.33,1617.17 1194.17,1611.33 1206,1606C1217.83,1600.67 1229.33,1596.67 1241,1592C1252.67,1587.33 1270.17,1580.33 1276,1578L1276.0,1740 L870,1740Z" fill="#4a86d0" filter="url(#b7)"/>
<path d="M870,1626C875.83,1628 893.33,1634 905,1638C916.67,1642 928.17,1646 940,1650C951.83,1654 962.67,1656.67 976,1662C989.33,1667.33 1003.83,1676.83 1020,1682C1036.17,1687.17 1055.33,1693 1073,1693C1090.67,1693 1109.83,1687.17 1126,1682C1142.17,1676.83 1156.67,1667.33 1170,1662C1183.33,1656.67 1194.17,1654 1206,1650C1217.83,1646 1229.33,1642 1241,1638C1252.67,1634 1270.17,1628 1276,1626L1276.0,1740 L870,1740Z" fill="#4b3bb8" filter="url(#b7)"/>
<path d="M870,1665C875.83,1666.67 893.33,1671.5 905,1675C916.67,1678.5 928.17,1682.5 940,1686C951.83,1689.5 962.67,1692.33 976,1696C989.33,1699.67 1003.83,1705 1020,1708C1036.17,1711 1055.33,1714 1073,1714C1090.67,1714 1109.83,1711 1126,1708C1142.17,1705 1156.67,1699.67 1170,1696C1183.33,1692.33 1194.17,1689.5 1206,1686C1217.83,1682.5 1229.33,1678.5 1241,1675C1252.67,1671.5 1270.17,1666.67 1276,1665L1276.0,1740 L870,1740Z" fill="#3f2a9c" filter="url(#b4)"/>
<g filter="url(#b7)" opacity="0.95"><path d="M1071,1280C1066.67,1278.83 1054.33,1273.33 1045,1273C1035.67,1272.67 1024.17,1275.33 1015,1278C1005.83,1280.67 996.67,1284.17 990,1289C983.33,1293.83 979,1298.83 975,1307C971,1315.17 968.83,1327.83 966,1338C963.17,1348.17 961,1358.83 958,1368C955,1377.17 950.33,1386 948,1393C945.67,1400 939.5,1403.5 944,1410C948.5,1416.5 960.67,1426.17 975,1432C989.33,1437.83 1014,1442.83 1030,1445C1046,1447.17 1064.17,1445 1071,1445Z" fill="#f6a222"/><path d="M1075,1280C1079.33,1278.83 1091.67,1273.33 1101,1273C1110.33,1272.67 1121.83,1275.33 1131,1278C1140.17,1280.67 1149.33,1284.17 1156,1289C1162.67,1293.83 1167,1298.83 1171,1307C1175,1315.17 1177.17,1327.83 1180,1338C1182.83,1348.17 1185,1358.83 1188,1368C1191,1377.17 1195.67,1386 1198,1393C1200.33,1400 1206.5,1403.5 1202,1410C1197.5,1416.5 1185.33,1426.17 1171,1432C1156.67,1437.83 1132,1442.83 1116,1445C1100,1447.17 1081.83,1445 1075,1445Z" fill="#f6a222"/></g>
<g filter="url(#b14)">
<ellipse cx="1064" cy="1468" rx="42" ry="46" fill="#ee1c1c"/>
<ellipse cx="1078" cy="1395" rx="22" ry="80" fill="#f0301c" opacity="0.85"/>
<ellipse cx="976" cy="1343" rx="30" ry="38" fill="#ee1c1c"/>
<ellipse cx="1106" cy="1345" rx="28" ry="46" fill="#ee1c1c"/>
<ellipse cx="1174" cy="1357" rx="10" ry="10" fill="#ee1c1c"/>
</g>
<g filter="url(#b7)">
<ellipse cx="1060" cy="1474" rx="14" ry="9" fill="#300" opacity="0.9"/>
<ellipse cx="973" cy="1350" rx="7" ry="12" fill="#300" opacity="0.8"/>
<ellipse cx="1103" cy="1352" rx="7" ry="12" fill="#300" opacity="0.8"/>
</g>
<rect x="880" y="1240" width="390" height="490" filter="url(#sulci)" opacity="0.82"/>
<g filter="url(#b7)" opacity="0.42"><path d="M1072.8,1266C1071.83,1264.83 1069.97,1261 1067,1259C1064.03,1257 1060.33,1255.25 1055,1254C1049.67,1252.75 1041.67,1251.25 1035,1251.5C1028.33,1251.75 1020.5,1253.75 1015,1255.5C1009.5,1257.25 1006.33,1260.08 1002,1262C997.67,1263.92 994.17,1264.75 989,1267C983.83,1269.25 976.33,1271.33 971,1275.5C965.67,1279.67 960.67,1285.42 957,1292C953.33,1298.58 951.42,1306.67 949,1315C946.58,1323.33 944.67,1333.67 942.5,1342C940.33,1350.33 938.25,1357.33 936,1365C933.75,1372.67 931.83,1380.83 929,1388C926.17,1395.17 922.33,1401.83 919,1408C915.67,1414.17 911.67,1419.67 909,1425C906.33,1430.33 904.73,1432.58 903,1440C901.27,1447.42 899.9,1457.17 898.6,1469.5C897.3,1481.83 895.38,1499.08 895.2,1514C895.02,1528.92 896.2,1545.9 897.5,1559C898.8,1572.1 900.2,1581.27 903,1592.6C905.8,1603.93 909.43,1615.43 914.3,1627C919.17,1638.57 924.75,1651.5 932.2,1662C939.65,1672.5 948.93,1682.17 959,1690C969.07,1697.83 981.43,1704.25 992.6,1709C1003.77,1713.75 1015.77,1716.92 1026,1718.5C1036.23,1720.08 1047.17,1719.42 1054,1718.5C1060.83,1717.58 1063.87,1715.42 1067,1713C1070.13,1710.58 1071.83,1705.5 1072.8,1704Z" fill="none" stroke="#000" stroke-width="14"/><path d="M1073.2,1266C1074.17,1264.83 1076.03,1261 1079,1259C1081.97,1257 1085.67,1255.25 1091,1254C1096.33,1252.75 1104.33,1251.25 1111,1251.5C1117.67,1251.75 1125.5,1253.75 1131,1255.5C1136.5,1257.25 1139.67,1260.08 1144,1262C1148.33,1263.92 1151.83,1264.75 1157,1267C1162.17,1269.25 1169.67,1271.33 1175,1275.5C1180.33,1279.67 1185.33,1285.42 1189,1292C1192.67,1298.58 1194.58,1306.67 1197,1315C1199.42,1323.33 1201.33,1333.67 1203.5,1342C1205.67,1350.33 1207.75,1357.33 1210,1365C1212.25,1372.67 1214.17,1380.83 1217,1388C1219.83,1395.17 1223.67,1401.83 1227,1408C1230.33,1414.17 1234.33,1419.67 1237,1425C1239.67,1430.33 1241.27,1432.58 1243,1440C1244.73,1447.42 1246.1,1457.17 1247.4,1469.5C1248.7,1481.83 1250.62,1499.08 1250.8,1514C1250.98,1528.92 1249.8,1545.9 1248.5,1559C1247.2,1572.1 1245.8,1581.27 1243,1592.6C1240.2,1603.93 1236.57,1615.43 1231.7,1627C1226.83,1638.57 1221.25,1651.5 1213.8,1662C1206.35,1672.5 1197.07,1682.17 1187,1690C1176.93,1697.83 1164.57,1704.25 1153.4,1709C1142.23,1713.75 1130.23,1716.92 1120,1718.5C1109.77,1720.08 1098.83,1719.42 1092,1718.5C1085.17,1717.58 1082.13,1715.42 1079,1713C1075.87,1710.58 1074.17,1705.5 1073.2,1704Z" fill="none" stroke="#000" stroke-width="14"/></g>
</g>
<g fill="#2b2b2b" stroke="#b8b8b8" stroke-width="0.8" stroke-opacity="0.55" opacity="0.85">
<rect x="946" y="1360.7" width="3.2" height="3.2"/>
<rect x="1006.8" y="1360.7" width="3.2" height="3.2"/>
<rect x="1070.7" y="1360.7" width="3.2" height="3.2"/>
<rect x="1131.9" y="1360.7" width="3.2" height="3.2"/>
<rect x="1194.1" y="1360.7" width="3.2" height="3.2"/>
<rect x="918.4" y="1420.6" width="3.2" height="3.2"/>
<rect x="993.7" y="1420.6" width="3.2" height="3.2"/>
<rect x="1070.7" y="1420.6" width="3.2" height="3.2"/>
<rect x="1148.1" y="1420.6" width="3.2" height="3.2"/>
<rect x="1224.7" y="1420.6" width="3.2" height="3.2"/>
<rect x="898.7" y="1505.1" width="3.2" height="3.2"/>
<rect x="955.6" y="1505.1" width="3.2" height="3.2"/>
<rect x="1013.4" y="1505.1" width="3.2" height="3.2"/>
<rect x="1070.7" y="1505.1" width="3.2" height="3.2"/>
<rect x="1128.4" y="1505.1" width="3.2" height="3.2"/>
<rect x="1186.2" y="1505.1" width="3.2" height="3.2"/>
<rect x="1243.5" y="1505.1" width="3.2" height="3.2"/>
<rect x="903.1" y="1589.1" width="3.2" height="3.2"/>
<rect x="987.1" y="1589.1" width="3.2" height="3.2"/>
<rect x="1070.7" y="1589.1" width="3.2" height="3.2"/>
<rect x="1156.9" y="1589.1" width="3.2" height="3.2"/>
<rect x="1237.8" y="1589.1" width="3.2" height="3.2"/>
<rect x="977.5" y="1652.5" width="3.2" height="3.2"/>
<rect x="1070.7" y="1652.5" width="3.2" height="3.2"/>
<rect x="1170" y="1652.5" width="3.2" height="3.2"/>
<rect x="1003.7" y="1278.4" width="3.2" height="3.2"/>
<rect x="1131.9" y="1278.4" width="3.2" height="3.2"/>
<rect x="1070.7" y="1300.3" width="3.2" height="3.2"/>
</g>
<path d="M1073.0,1262 L1073.3,1708" stroke="#1a0d08" stroke-width="2.4" fill="none" opacity="0.9"/>
</g>
</svg>
</body>
</html>
